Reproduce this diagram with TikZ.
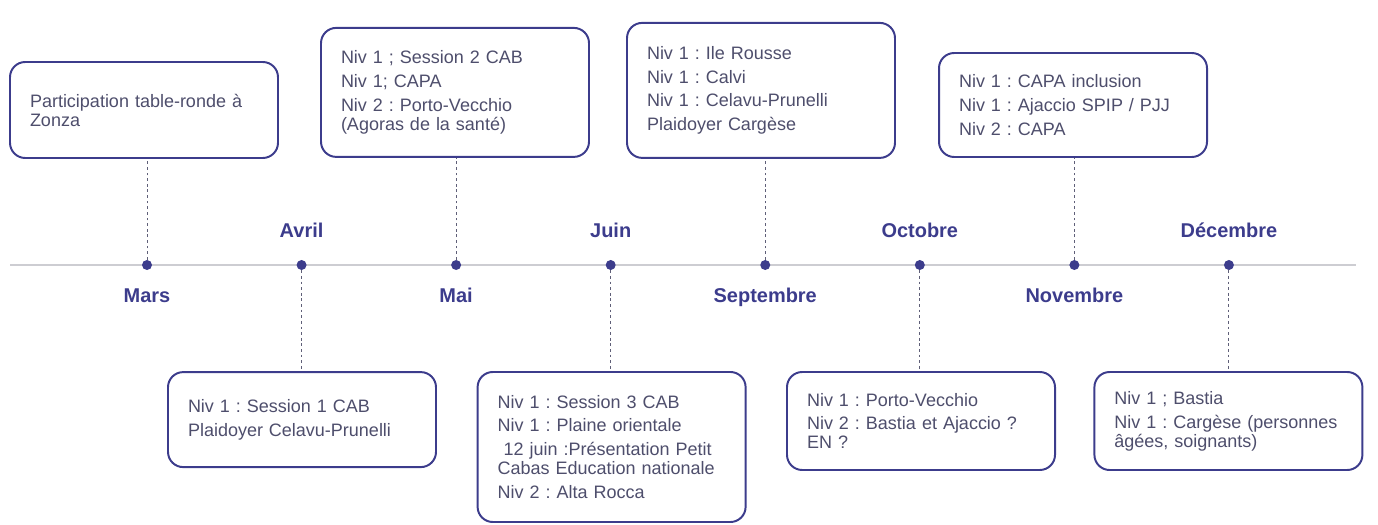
\documentclass[tikz,border=0pt]{standalone}
\usepackage{fontspec}
\setmainfont{Liberation Sans}
\usetikzlibrary{positioning}
\definecolor{navy}{RGB}{60,60,140}
\definecolor{boxtext}{RGB}{78,78,108}
\definecolor{axisgray}{RGB}{205,205,210}
\definecolor{leadergray}{RGB}{95,95,120}
\frenchspacing

\begin{document}
\begin{tikzpicture}[
		evbox/.style={draw=navy, line width=1.4pt, rounded corners=0.38cm, fill=white,
			minimum width=6.7cm, text width=5.7cm, inner xsep=0.5cm, align=left,
			text=boxtext, font=\fontsize{12.8}{13.5}\selectfont},
		monthdot/.style={circle, fill=navy, inner sep=0pt, minimum size=0.25cm},
		monthlabel/.style={text=navy, inner sep=0pt, font=\fontsize{14.2}{16}\selectfont\bfseries},
		leader/.style={leadergray, line width=0.7pt, dash pattern=on 2pt off 2pt}
	]
		\useasboundingbox (0,0) rectangle (34.45,13.1);
		%axis
			\draw [axisgray, line width=1.4pt] (0.25,6.475) -- (33.9,6.475);
		%dots
			\foreach \i/\name in {0/d1,1/d2,2/d3,3/d4,4/d5,5/d6,6/d7,7/d8}
				\node[monthdot] (\name) at (3.675+\i*3.864,6.475) {};
		%month labels
			\node[monthlabel, below=0.8cm of d1, anchor=base] {Mars};
			\node[monthlabel, above=0.55cm of d2, anchor=base] {Avril};
			\node[monthlabel, below=0.8cm of d3, anchor=base] {Mai};
			\node[monthlabel, above=0.55cm of d4, anchor=base] {Juin};
			\node[monthlabel, below=0.8cm of d5, anchor=base] {Septembre};
			\node[monthlabel, above=0.55cm of d6, anchor=base] {Octobre};
			\node[monthlabel, below=0.8cm of d7, anchor=base] {Novembre};
			\node[monthlabel, above=0.55cm of d8, anchor=base] {Décembre};
		%boxes above
			\node[evbox, minimum height=2.4cm] (marsbox) at (3.6,10.35)
				{Participation table-ronde à\\Zonza};
			\node[evbox, minimum height=3.225cm] (maibox) at (11.375,10.79)
				{Niv 1 ; Session 2 CAB\\[3.5pt]Niv 1; CAPA\\[3.5pt]Niv 2 : Porto-Vecchio\\(Agoras de la santé)};
			\node[evbox, minimum height=3.375cm] (septbox) at (19.025,10.84)
				{Niv 1 : Ile Rousse\\[3.5pt]Niv 1 : Calvi\\[3.5pt]Niv 1 : Celavu-Prunelli\\[3.5pt]Plaidoyer Cargèse};
			\node[evbox, minimum height=2.6cm] (novbox) at (26.825,10.475)
				{Niv 1 : CAPA inclusion\\[3.5pt]Niv 1 : Ajaccio SPIP / PJJ\\[3.5pt]Niv 2 : CAPA};
		%boxes below
			\node[evbox, minimum height=2.375cm] (avrilbox) at (7.55,2.61)
				{Niv 1 : Session 1 CAB\\[3.5pt]Plaidoyer Celavu-Prunelli};
			\node[evbox, minimum height=3.75cm] (juinbox) at (15.29,1.925)
				{Niv 1 : Session 3 CAB\\[3.5pt]Niv 1 : Plaine orientale\\[3.5pt]\ 12 juin :Présentation Petit\\Cabas Education nationale\\[3.5pt]Niv 2 : Alta Rocca};
			\node[evbox, minimum height=2.45cm] (octbox) at (23.025,2.575)
				{Niv 1 : Porto-Vecchio\\[3.5pt]Niv 2 : Bastia et Ajaccio ?\\EN ?};
			\node[evbox, minimum height=2.45cm] (decbox) at (30.71,2.575)
				{Niv 1 ; Bastia\\[3.5pt]Niv 1 : Cargèse (personnes\\âgées, soignants)};
		%leaders
			\draw [leader] (d1) -- (d1 |- marsbox.south);
			\draw [leader] (d2) -- (d2 |- avrilbox.north);
			\draw [leader] (d3) -- (d3 |- maibox.south);
			\draw [leader] (d4) -- (d4 |- juinbox.north);
			\draw [leader] (d5) -- (d5 |- septbox.south);
			\draw [leader] (d6) -- (d6 |- octbox.north);
			\draw [leader] (d7) -- (d7 |- novbox.south);
			\draw [leader] (d8) -- (d8 |- decbox.north);
	\end{tikzpicture}
\end{document}
